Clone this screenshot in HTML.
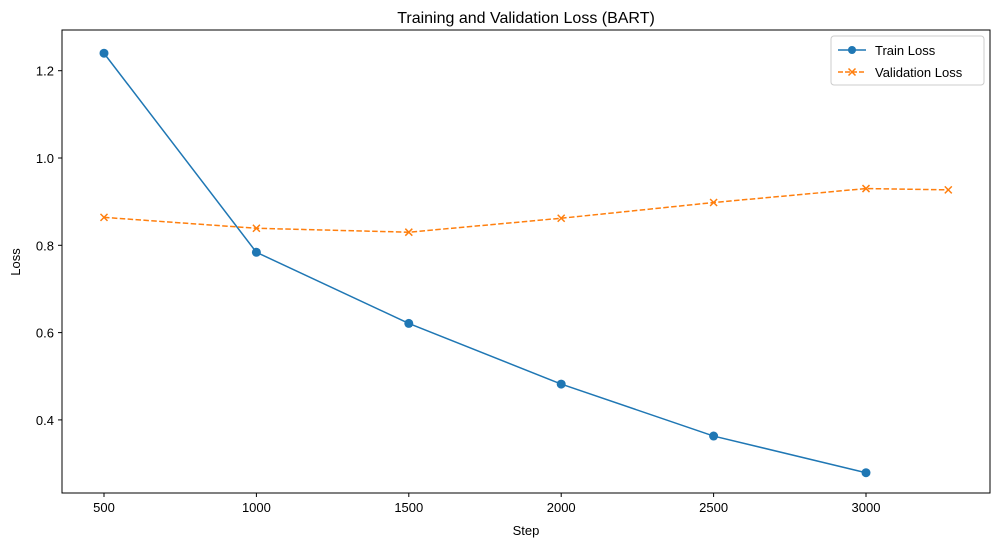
<!DOCTYPE html>
<html><head><meta charset="utf-8"><style>
body{margin:0;background:#fff;}
svg text{font-family:"Liberation Sans","DejaVu Sans",sans-serif;fill:#000;}
</style></head><body>
<svg id="chart" width="1001" height="547" xmlns="http://www.w3.org/2000/svg">
<rect x="0" y="0" width="1001" height="547" fill="#fff"/>
<text x="526" y="23" font-size="16" text-anchor="middle">Training and Validation Loss (BART)</text>
<g id="xticks"></g><g id="yticks"></g>
<g id="series"></g>
<rect x="62" y="30" width="928" height="463" fill="none" stroke="#000" stroke-width="1"/>
<text x="526" y="535" font-size="13" text-anchor="middle">Step</text>
<text x="20" y="262" font-size="13" text-anchor="middle" transform="rotate(-90 20 262)">Loss</text>
<g>
<rect x="831" y="36" width="153" height="49" rx="3" fill="#fff" stroke="#ccc"/>
<g>
<line x1="838" y1="50" x2="866" y2="50" stroke="#1f77b4" stroke-width="1.5"/>
<circle cx="852" cy="50" r="4" fill="#1f77b4"/>
<text x="875" y="55" font-size="13">Train Loss</text></g>
<g>
<line x1="838" y1="72" x2="866" y2="72" stroke="#ff7f0e" stroke-width="1.5" stroke-dasharray="5,2"/>
<path d="M848.5 68.5L855.5 75.5M855.5 68.5L848.5 75.5" stroke="#ff7f0e" stroke-width="1.5"/>
<text x="875" y="77" font-size="13">Validation Loss</text></g>
</g>
</svg>
<script>
const trainSteps=[500,1000,1500,2000,2500,3000];
const trainLoss=[1.240,0.784,0.621,0.482,0.363,0.279];
const valSteps=[500,1000,1500,2000,2500,3000,3270];
const valLoss=[0.864,0.839,0.830,0.862,0.898,0.930,0.927];
const xTicks=[500,1000,1500,2000,2500,3000];
const yTicks=[0.4,0.6,0.8,1.0,1.2];
const NS="http://www.w3.org/2000/svg";
function xs(v){return 104+(v-500)*(152.4/500);}
function ys(v){return 158-(v-1.0)*(87.3/0.2);}
function mk(t,a,p){const e=document.createElementNS(NS,t);for(const k in a)e.setAttribute(k,a[k]);p.appendChild(e);return e;}
const xg=document.getElementById('xticks'),yg=document.getElementById('yticks'),sg=document.getElementById('series');
xTicks.forEach(v=>{const x=xs(v);
const l=mk('line',{x1:x,y1:493,x2:x,y2:497,stroke:'#000'},xg);


const t=mk('text',{x:x,y:512,'font-size':13,'text-anchor':'middle'},xg);t.textContent=v;

});
yTicks.forEach(v=>{const y=ys(v);
const l=mk('line',{x1:58,y1:y,x2:62,y2:y,stroke:'#000'},yg);


const t=mk('text',{x:54,y:y+5,'font-size':13,'text-anchor':'end'},yg);t.textContent=v.toFixed(1);

});
const tp=mk('polyline',{points:trainSteps.map((s,i)=>xs(s)+','+ys(trainLoss[i])).join(' '),fill:'none',stroke:'#1f77b4','stroke-width':1.5},sg);


trainSteps.forEach((s,i)=>{const c=mk('circle',{cx:xs(s),cy:ys(trainLoss[i]),r:4.5,fill:'#1f77b4'},sg);

});
const vp=mk('polyline',{points:valSteps.map((s,i)=>xs(s)+','+ys(valLoss[i])).join(' '),fill:'none',stroke:'#ff7f0e','stroke-width':1.5,'stroke-dasharray':'5.5,2.4'},sg);


valSteps.forEach((s,i)=>{const x=xs(s),y=ys(valLoss[i]);
const m=mk('path',{d:`M${x-3.5} ${y-3.5}L${x+3.5} ${y+3.5}M${x+3.5} ${y-3.5}L${x-3.5} ${y+3.5}`,stroke:'#ff7f0e','stroke-width':1.5},sg);

});
</script>
</body></html>
